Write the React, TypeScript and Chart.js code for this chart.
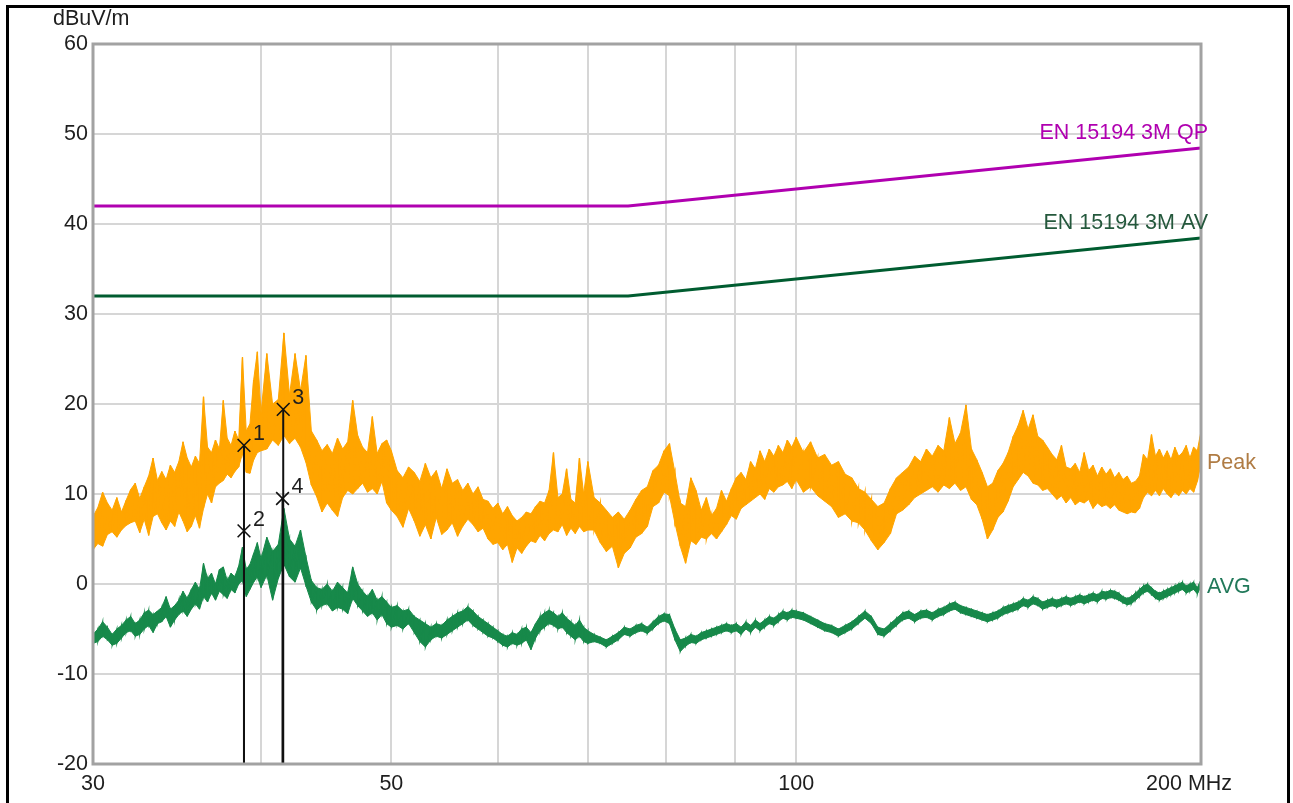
import React, { useEffect, useRef } from 'react';
import { Chart, registerables } from 'chart.js';

Chart.register(...registerables);

// ---------- data ----------
const FREQ_MHZ = [
  30, 30.25, 30.5, 30.75, 31, 31.25, 31.5, 31.75, 32, 32.25, 32.5, 32.75, 33, 33.25, 33.5, 33.75, 34, 34.25, 34.5, 34.75,
  35, 35.25, 35.5, 35.75, 36, 36.25, 36.5, 36.75, 37, 37.25, 37.5, 37.75, 38, 38.25, 38.5, 38.75, 39, 39.25, 39.5, 39.75, 40,
  40.4, 40.8, 41.2, 41.6, 42, 42.4, 42.8, 43.2, 43.6, 44, 44.4, 44.8, 45.2, 45.6, 46, 46.4, 46.8, 47.2, 47.6, 48, 48.4, 48.8, 49.2, 49.6, 50,
  50.5, 51, 51.5, 52, 52.5, 53, 53.5, 54, 54.5, 55, 55.5, 56, 56.5, 57, 57.5, 58, 58.5, 59, 59.5, 60,
  60.5, 61, 61.5, 62, 62.5, 63, 63.5, 64, 64.5, 65, 65.5, 66, 66.5, 67, 67.5, 68, 68.5, 69, 69.5, 70,
  70.75, 71.5, 72.25, 73, 73.75, 74.5, 75.25, 76, 76.75, 77.5, 78.25, 79, 79.75, 80.5, 81.25, 82, 82.75, 83.5, 84.25, 85,
  85.75, 86.5, 87.25, 88, 88.75, 89.5, 90.25, 91, 91.75, 92.5, 93.25, 94, 94.75, 95.5, 96.25, 97, 97.75, 98.5, 99.25, 100,
  101.25, 102.5, 103.75, 105, 106.25, 107.5, 108.75, 110, 111.25, 112.5, 113.75, 115, 116.25, 117.5, 118.75, 120,
  121.25, 122.5, 123.75, 125, 126.25, 127.5, 128.75, 130, 131.25, 132.5, 133.75, 135, 136.25, 137.5, 138.75, 140,
  141.25, 142.5, 143.75, 145, 146.25, 147.5, 148.75, 150, 151.25, 152.5, 153.75, 155, 156.25, 157.5, 158.75, 160,
  161.25, 162.5, 163.75, 165, 166.25, 167.5, 168.75, 170, 171.25, 172.5, 173.75, 175, 176.25, 177.5, 178.75, 180,
  181.25, 182.5, 183.75, 185, 186.25, 187.5, 188.75, 190, 191.25, 192.5, 193.75, 195, 196.25, 197.5, 198.75, 200,
];

const PEAK_HIGH = [
  7.5, 8.5, 10.2, 9.0, 8.2, 9.6, 8.0, 9.3, 10.5, 11.2, 9.5, 10.8, 12.0, 14.0, 11.5, 12.5, 11.6, 13.2, 12.4, 13.6,
  15.8, 14.0, 13.0, 14.2, 13.4, 20.8, 15.2, 14.6, 16.0, 15.0, 20.4, 16.2, 15.4, 17.0, 16.0, 25.2, 17.0, 17.8, 22.7, 25.8, 19.0,
  25.6, 20.0, 20.5, 27.9, 21.0, 25.6, 21.5, 25.4, 17.0, 16.0, 14.8, 15.5, 14.5, 16.2, 15.0, 15.8, 20.4, 16.5, 15.2, 14.6, 18.6, 14.5, 15.6, 16.0, 14.8,
  12.6, 11.8, 13.0, 12.4, 11.4, 13.4, 11.8, 12.6, 10.6, 12.8, 11.2, 11.6, 10.4, 11.2, 10.0, 10.8, 9.4, 9.2, 8.4, 9.0,
  7.8, 8.6, 7.6, 7.0, 7.4, 8.0, 7.8, 8.6, 9.2, 9.0, 10.4, 14.6, 9.6, 10.0, 12.8, 9.4, 9.0, 14.0, 10.0, 13.6,
  9.6, 9.0, 8.2, 7.4, 8.0, 7.2, 8.2, 9.4, 10.4, 10.8, 12.6, 13.2, 14.8, 15.6, 12.4, 9.0, 8.6, 11.8, 10.4, 8.2,
  9.6, 7.6, 8.4, 10.4, 9.2, 10.6, 11.8, 12.4, 11.6, 13.6, 12.8, 14.8, 13.6, 15.0, 14.2, 15.4, 14.6, 16.0, 15.2, 16.3,
  14.6, 15.8, 14.0, 14.4, 13.2, 13.6, 12.2, 11.8, 10.6, 10.2, 9.4, 8.6, 9.0, 10.6, 11.8, 12.4,
  13.0, 14.2, 13.6, 15.0, 14.2, 15.4, 14.8, 18.5, 15.6, 16.8, 19.9, 15.0, 13.8, 12.4, 10.8, 11.2,
  12.6, 13.4, 14.6, 16.4, 17.6, 19.3, 17.2, 18.8, 16.4, 16.0, 15.2, 14.4, 13.8, 15.4, 13.0, 12.8,
  13.4, 12.4, 14.6, 12.6, 13.2, 12.0, 13.0, 12.2, 12.8, 11.8, 12.4, 11.6, 12.0, 11.2, 11.4, 12.0,
  14.4, 13.8, 16.6, 14.2, 15.0, 14.0, 14.8, 13.8, 15.2, 14.2, 14.6, 15.4, 14.0, 15.2, 14.8, 17.0,
];

const PEAK_LOW = [
  3.8, 4.5, 4.2, 5.5, 5.8, 5.2, 6.0, 6.5, 6.8, 7.0, 5.7, 7.2, 5.4, 7.5, 7.8, 6.8, 6.0, 7.0, 6.4, 8.0,
  7.0, 5.8, 6.4, 7.6, 6.2, 8.4, 10.0, 9.0, 10.8, 11.2, 11.5, 12.2, 11.8, 12.5, 13.0, 14.5, 12.4, 12.3, 13.8, 14.6, 14.8,
  15.0, 16.0, 15.4, 16.5, 15.6, 16.2, 15.2, 13.5, 11.0, 9.7, 8.0, 9.0, 8.2, 7.5, 9.6, 10.4, 10.0, 10.6, 11.2, 10.2, 10.6, 10.0, 11.4, 9.0, 8.2,
  7.5, 6.3, 8.4, 7.0, 5.3, 6.6, 5.0, 7.4, 5.5, 6.0, 6.8, 5.3, 6.4, 7.2, 6.6, 5.8, 6.2, 5.0, 4.4, 4.6,
  3.8, 4.4, 2.4, 4.0, 3.4, 4.2, 4.8, 4.6, 5.4, 4.8, 5.6, 6.0, 5.8, 6.6, 5.4, 6.2, 5.6, 6.4, 5.8, 6.0,
  6.0, 4.6, 3.6, 4.2, 1.8, 3.4, 4.0, 5.2, 5.6, 6.4, 8.6, 9.0, 10.2, 9.8, 6.8, 4.2, 2.3, 4.8, 4.4, 5.2,
  5.0, 5.6, 5.0, 5.8, 6.6, 7.6, 7.2, 8.4, 8.8, 9.2, 9.6, 10.0, 9.4, 10.6, 10.2, 10.8, 11.0, 11.4, 10.6, 11.6,
  10.2, 10.8, 9.8, 9.2, 8.6, 7.4, 7.8, 7.0, 6.8, 6.0, 4.8, 3.8, 4.6, 5.6, 7.8, 8.2,
  8.8, 9.6, 10.0, 10.4, 10.8, 10.2, 11.0, 10.6, 11.2, 10.4, 10.8, 9.4, 8.8, 7.2, 5.0, 6.0,
  7.4, 8.0, 9.2, 10.8, 11.6, 12.4, 12.0, 11.2, 11.0, 10.4, 10.6, 10.0, 9.4, 9.8, 9.0, 9.6,
  8.8, 9.2, 9.0, 9.4, 8.4, 9.0, 8.6, 8.8, 8.4, 8.8, 8.2, 8.0, 7.8, 8.0, 7.9, 8.4,
  9.6, 10.2, 9.8, 10.4, 9.8, 10.6, 10.0, 9.6, 10.2, 9.8, 10.4, 10.0, 10.6, 10.2, 11.4, 13.4,
];

const AVG_HIGH = [
  -5.6, -5.0, -4.2, -4.8, -5.6, -5.0, -4.6, -4.0, -3.6, -4.4, -4.0, -3.2, -2.9, -3.4, -3.0, -2.6, -1.4, -2.8, -2.4, -1.8,
  -0.8, -1.6, -0.6, 0.2, -0.6, 2.3, 0.6, 1.2, 0.0, 1.6, 1.9, 0.4, 1.2, 0.8, 2.0, 4.1, 1.6, 2.2, 3.4, 4.6, 2.8,
  5.2, 3.6, 4.4, 8.4, 5.0, 4.2, 6.0, 3.0, 0.4, -0.4, -0.6, 0.0, -0.8, 0.2, -0.4, -1.0, 1.9, 0.0, -0.8, -1.4, -0.6, -1.8, -1.4, -2.0, -2.6,
  -2.4, -3.0, -2.8, -3.6, -4.0, -4.4, -4.8, -4.4, -4.6, -4.0, -3.6, -3.2, -3.0, -2.5, -3.0, -3.6, -4.0, -4.4, -4.8, -5.2,
  -5.6, -5.8, -5.4, -5.6, -5.0, -4.8, -5.4, -4.4, -3.6, -3.2, -2.9, -3.2, -3.6, -3.2, -3.8, -4.2, -4.6, -4.0, -4.8, -5.2,
  -5.6, -5.9, -6.2, -5.8, -5.4, -4.8, -5.0, -4.6, -4.4, -4.8, -4.2, -3.6, -3.3, -3.4, -5.0, -6.2, -6.0, -5.6, -5.8, -5.4,
  -5.2, -5.0, -4.8, -4.6, -4.4, -4.6, -4.4, -4.8, -4.2, -4.6, -4.0, -4.4, -4.0, -3.6, -3.8, -3.4, -3.0, -3.2, -2.9, -3.0,
  -3.2, -3.6, -4.0, -4.4, -4.6, -5.0, -4.6, -4.2, -3.6, -3.0, -3.6, -4.8, -5.0, -4.4, -3.8, -3.2,
  -3.0, -3.4, -3.0, -2.9, -3.2, -2.8, -2.6, -2.2, -2.0, -2.4, -2.6, -2.8, -3.0, -3.2, -3.4, -3.2,
  -3.0, -2.6, -2.4, -2.2, -2.0, -1.6, -1.8, -1.4, -1.6, -2.0, -1.8, -1.6, -1.8, -1.6, -1.4, -1.6,
  -1.4, -1.2, -1.4, -1.2, -1.0, -1.2, -0.8, -0.9, -0.7, -0.8, -1.0, -1.4, -1.6, -1.4, -1.0, -0.6,
  -0.2, 0.0, -0.4, -0.8, -1.0, -0.8, -0.6, -0.4, -0.2, 0.0, 0.2, -0.2, 0.0, 0.2, -0.4, 0.5,
];

const AVG_LOW = [
  -6.6, -6.4, -5.8, -6.2, -6.8, -6.6, -6.0, -5.4, -5.2, -5.8, -5.6, -5.0, -4.6, -5.4, -4.4, -4.2, -3.6, -4.8, -4.0, -3.4,
  -3.0, -3.6, -2.8, -2.2, -2.8, -1.4, -2.0, -1.0, -1.8, -0.8, -1.2, -1.6, -0.6, -1.0, 0.0, 0.4, -1.4, -0.6, 0.2, 0.8, -0.4,
  1.0, -1.8, 0.6, 2.2, 0.8, 0.2, 1.8, -0.2, -2.0, -2.9, -2.4, -2.2, -3.0, -2.6, -2.8, -3.3, -1.6, -2.4, -3.0, -3.6, -3.2, -4.0, -3.4, -4.4, -4.8,
  -4.6, -5.0, -4.4, -5.4, -6.4, -7.0, -6.2, -5.8, -6.0, -5.6, -5.2, -4.8, -4.4, -4.0, -4.6, -5.0, -5.4, -5.8, -6.0, -6.4,
  -6.8, -7.0, -6.6, -6.8, -6.6, -6.2, -7.3, -6.0, -5.2, -4.8, -4.4, -4.6, -5.0, -4.8, -5.4, -5.8, -6.2, -5.8, -6.4, -6.6,
  -6.4, -6.6, -7.0, -6.6, -6.2, -5.6, -5.8, -5.4, -5.2, -5.5, -5.0, -4.4, -4.1, -4.4, -6.2, -7.5, -6.9, -6.5, -6.6, -6.2,
  -6.0, -5.8, -5.6, -5.4, -5.2, -5.4, -5.2, -5.6, -5.0, -5.4, -4.8, -5.2, -4.8, -4.4, -4.6, -4.2, -3.8, -4.0, -3.7, -3.8,
  -4.0, -4.4, -4.8, -5.2, -5.4, -5.8, -5.4, -5.0, -4.4, -3.8, -4.4, -5.6, -5.8, -5.2, -4.6, -4.0,
  -3.8, -4.2, -3.8, -3.7, -4.0, -3.6, -3.4, -3.0, -2.8, -3.2, -3.4, -3.6, -3.8, -4.0, -4.2, -4.0,
  -3.8, -3.4, -3.2, -3.0, -2.8, -2.4, -2.6, -2.2, -2.4, -2.8, -2.6, -2.4, -2.6, -2.4, -2.2, -2.4,
  -2.2, -2.0, -2.2, -2.0, -1.8, -2.0, -1.6, -1.7, -1.5, -1.6, -1.8, -2.1, -2.3, -2.2, -1.8, -1.4,
  -1.0, -0.8, -1.2, -1.6, -1.8, -1.6, -1.4, -1.2, -1.0, -0.8, -0.6, -1.0, -0.8, -0.6, -1.1, -0.3,
];

const LIMIT_FREQ = [30, 75, 200];
const QP_LIMIT = [42, 42, 48.45];
const AV_LIMIT = [32, 32, 38.45];

const MARKER_NAMES = ['1', '2', '3', '4'];
const MARKER_FREQ = [38.85, 38.85, 41.55, 41.5];
const MARKER_LEVEL = [15.4, 5.9, 19.4, 9.5];

const GRID_FREQ = [30, 40, 50, 60, 70, 80, 90, 100, 200];
const X_TICK_TEXT: Record<number, string> = { 30: '30', 50: '50', 100: '100', 200: '200 MHz    ' };
const Y_MIN = -20;
const Y_MAX = 60;
const Y_STEP = 10;
const Y_UNIT = 'dBuV/m';

const QP_NAME = 'EN 15194 3M QP';
const AV_NAME = 'EN 15194 3M AV';
const PEAK_NAME = 'Peak';
const AVG_NAME = 'AVG';

// ---------- styles ----------
const FONT_FAMILY = "'Liberation Sans', Arial, sans-serif";
const FONT_SIZE = 21.5;
const TEXT_COLOR = '#1e1e1e';
const GRID_COLOR = '#d6d6d6';
const FRAME_COLOR = '#a2a2a2';
const PEAK_COLOR = '#ffa500';
const AVG_COLOR = '#17894a';
const QP_COLOR = '#b000b0';
const AV_COLOR = '#005c30';

const points = (freq: number[], vals: number[]) => freq.map((f, i) => ({ x: f, y: vals[i] }));

// zig-zag through every sample's high and low reading
function zigzag(freq: number[], hi: number[], lo: number[]) {
  const out: { x: number; y: number }[] = [];
  for (let i = 0; i < freq.length; i++) {
    out.push({ x: freq[i], y: hi[i] });
    out.push({ x: freq[i], y: lo[i] });
  }
  return out;
}

const overlayPlugin = {
  id: 'overlay',
  afterDraw(chart: any) {
    const { ctx, chartArea, scales } = chart;
    const xs = scales.x;
    const ys = scales.y;
    ctx.save();
    ctx.strokeStyle = FRAME_COLOR;
    ctx.lineWidth = 3;
    ctx.strokeRect(chartArea.left, chartArea.top, chartArea.right - chartArea.left, chartArea.bottom - chartArea.top);

    ctx.font = `${FONT_SIZE}px ${FONT_FAMILY}`;
    ctx.textBaseline = 'middle';

    ctx.fillStyle = TEXT_COLOR;
    ctx.textAlign = 'left';
    ctx.fillText(Y_UNIT, chartArea.left - 40, chartArea.top - 25);

    const xEnd = xs.getPixelForValue(LIMIT_FREQ[LIMIT_FREQ.length - 1]);
    ctx.textAlign = 'right';
    ctx.fillStyle = QP_COLOR;
    ctx.fillText(QP_NAME, xEnd + 7, ys.getPixelForValue(QP_LIMIT[QP_LIMIT.length - 1]) - 15);
    ctx.fillStyle = '#24583c';
    ctx.fillText(AV_NAME, xEnd + 7, ys.getPixelForValue(AV_LIMIT[AV_LIMIT.length - 1]) - 15);

    const xTrace = xs.getPixelForValue(FREQ_MHZ[FREQ_MHZ.length - 1]);
    ctx.textAlign = 'left';
    ctx.fillStyle = '#b07c44';
    ctx.fillText(PEAK_NAME, xTrace + 6, ys.getPixelForValue(PEAK_LOW[PEAK_LOW.length - 1]));
    ctx.fillStyle = '#21795a';
    ctx.fillText(AVG_NAME, xTrace + 6, ys.getPixelForValue(AVG_LOW[AVG_LOW.length - 1]));

    ctx.fillStyle = TEXT_COLOR;
    for (let i = 0; i < MARKER_NAMES.length; i++) {
      const px = xs.getPixelForValue(MARKER_FREQ[i]);
      const py = ys.getPixelForValue(MARKER_LEVEL[i]);
      ctx.fillText(MARKER_NAMES[i], px + 9, py - 11);
    }
    ctx.restore();
  },
};

export default function App() {
  const canvasRef = useRef<HTMLCanvasElement | null>(null);

  useEffect(() => {
    const canvas = canvasRef.current;
    if (!canvas) return;

    const markerLines = MARKER_FREQ.map((f, i) => ({
      data: [
        { x: f, y: MARKER_LEVEL[i] },
        { x: f, y: Y_MIN },
      ],
      borderColor: '#111111',
      borderWidth: 2,
      pointRadius: 0,
      showLine: true,
      fill: false,
    }));

    const band = (vals: number[], color: string, fillNext: boolean) => ({
      data: points(FREQ_MHZ, vals),
      borderColor: color,
      backgroundColor: color,
      borderWidth: 1,
      pointRadius: 0,
      tension: 0,
      fill: fillNext ? '+1' : false,
    });

    const chart = new Chart(canvas, {
      type: 'line',
      data: {
        datasets: [
          {
            data: MARKER_FREQ.map((f, i) => ({ x: f, y: MARKER_LEVEL[i] })),
            showLine: false,
            pointStyle: 'crossRot',
            pointRadius: 9,
            pointBorderWidth: 1.6,
            borderColor: '#111111',
            backgroundColor: '#111111',
            fill: false,
          },
          ...markerLines,
          {
            data: zigzag(FREQ_MHZ, AVG_HIGH, AVG_LOW),
            borderColor: AVG_COLOR,
            borderWidth: 1.2,
            pointRadius: 0,
            tension: 0,
            fill: false,
          },
          band(AVG_HIGH, AVG_COLOR, true),
          band(AVG_LOW, AVG_COLOR, false),
          {
            data: zigzag(FREQ_MHZ, PEAK_HIGH, PEAK_LOW),
            borderColor: PEAK_COLOR,
            borderWidth: 1.4,
            pointRadius: 0,
            tension: 0,
            fill: false,
          },
          band(PEAK_HIGH, PEAK_COLOR, true),
          band(PEAK_LOW, PEAK_COLOR, false),
          {
            data: LIMIT_FREQ.map((f, i) => ({ x: f, y: QP_LIMIT[i] })),
            borderColor: QP_COLOR,
            borderWidth: 3,
            pointRadius: 0,
            fill: false,
          },
          {
            data: LIMIT_FREQ.map((f, i) => ({ x: f, y: AV_LIMIT[i] })),
            borderColor: AV_COLOR,
            borderWidth: 3,
            pointRadius: 0,
            fill: false,
          },
        ] as any,
      },
      options: {
        animation: false,
        responsive: false,
        events: [],
        layout: { padding: { left: 0, top: 44, right: 92, bottom: 0 } },
        plugins: {
          legend: { display: false },
          tooltip: { enabled: false },
        },
        scales: {
          x: {
            type: 'logarithmic',
            min: GRID_FREQ[0],
            max: GRID_FREQ[GRID_FREQ.length - 1],
            position: 'bottom',
            border: { display: false },
            grid: { color: GRID_COLOR, lineWidth: 2, drawTicks: false },
            afterBuildTicks: (scale: any) => {
              scale.ticks = GRID_FREQ.map((v) => ({ value: v }));
            },
            afterFit: (scale: any) => {
              scale.height = 39;
            },
            ticks: {
              autoSkip: false,
              maxRotation: 0,
              minRotation: 0,
              padding: 7,
              color: TEXT_COLOR,
              font: { family: FONT_FAMILY, size: FONT_SIZE },
              callback: (value: any) => X_TICK_TEXT[Number(value)] ?? '',
            },
          },
          y: {
            type: 'linear',
            min: Y_MIN,
            max: Y_MAX,
            border: { display: false },
            grid: { color: GRID_COLOR, lineWidth: 2, drawTicks: false },
            afterFit: (scale: any) => {
              scale.width = 93;
            },
            ticks: {
              stepSize: Y_STEP,
              padding: 5,
              color: TEXT_COLOR,
              font: { family: FONT_FAMILY, size: FONT_SIZE },
            },
          },
        },
      } as any,
      plugins: [overlayPlugin],
    });

    return () => chart.destroy();
  }, []);

  return (
    <div
      style={{
        position: 'fixed',
        left: 0,
        top: 0,
        width: 1293,
        height: 803,
        background: '#ffffff',
        overflow: 'hidden',
      }}
    >
      <canvas ref={canvasRef} width={1293} height={803} style={{ display: 'block', width: 1293, height: 803 }} />
      <div
        style={{
          position: 'absolute',
          left: 6,
          top: 5,
          width: 1284,
          height: 830,
          border: '3px solid #000',
          boxSizing: 'border-box',
          pointerEvents: 'none',
        }}
      />
    </div>
  );
}
